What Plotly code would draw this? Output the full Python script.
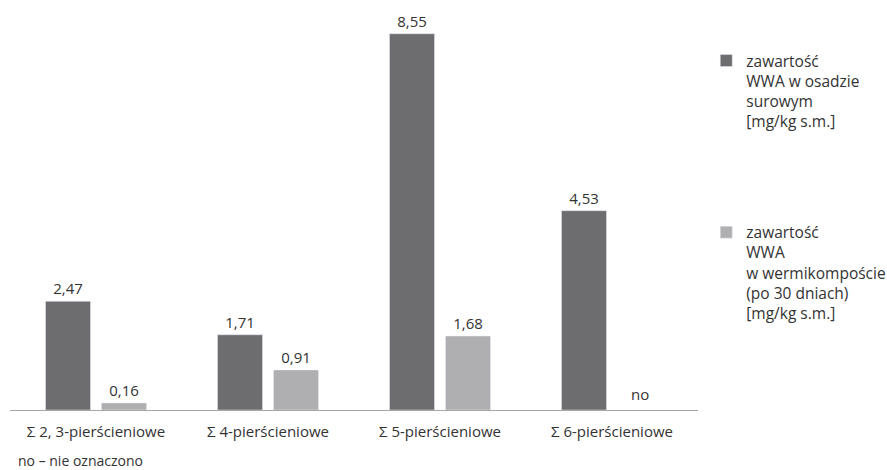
import plotly.graph_objects as go

categories = ["Σ 2, 3-pierścieniowe", "Σ 4-pierścieniowe", "Σ 5-pierścieniowe", "Σ 6-pierścieniowe"]
raw_sludge = [2.47, 1.71, 8.55, 4.53]
vermicompost = [0.16, 0.91, 1.68, None]  # 6-ring: not determined ("no")
series_names = [
    "zawartość<br>WWA w osadzie<br>surowym<br>[mg/kg s.m.]",
    "zawartość<br>WWA<br>w wermikompoście<br>(po 30 dniach)<br>[mg/kg s.m.]",
]
note_text = "no – nie oznaczono"

FONT = "Open Sans"
DARK = "#6d6d6f"
LIGHT = "#afafb1"
TEXT = "#333333"

fig = go.Figure()
fig.add_trace(go.Bar(
    x=categories, y=raw_sludge, name=series_names[0], marker_color=DARK,
    texttemplate="%{y:.2f}", textposition="outside", cliponaxis=False,
    textfont=dict(family=FONT, size=15, color=TEXT), legendgroup="a",
))
fig.add_trace(go.Bar(
    x=categories, y=vermicompost, name=series_names[1], marker_color=LIGHT,
    texttemplate="%{y:.2f}", textposition="outside", cliponaxis=False,
    textfont=dict(family=FONT, size=15, color=TEXT), legendgroup="b",
))

# label for the missing value in the last group
fig.add_annotation(
    x=categories[3], y=0, xref="x", yref="y", text="no", showarrow=False,
    xshift=28, yshift=4, yanchor="bottom", font=dict(family=FONT, size=15, color=TEXT),
)
# footnote explaining the abbreviation
fig.add_annotation(
    x=(80 - 10) / 688, y=-(460 - 410) / 400, xref="paper", yref="paper",
    xanchor="center", yanchor="middle", text=note_text, showarrow=False,
    font=dict(family=FONT, size=14, color=TEXT),
)

fig.update_layout(
    width=887, height=470,
    margin=dict(l=10, r=189, t=10, b=60, autoexpand=False),
    paper_bgcolor="white", plot_bgcolor="white",
    separators=", ",
    barmode="group", bargap=0.349, bargroupgap=0.196,
    font=dict(family=FONT, size=15, color=TEXT),
    legend=dict(
        x=1.012, xanchor="left", y=0.915, yanchor="top", valign="top",
        tracegroupgap=88, traceorder="grouped",
        font=dict(family=FONT, size=15.5, color=TEXT),
        itemwidth=30,
    ),
    xaxis=dict(
        showline=True, linecolor="#a6a6a6", linewidth=1, ticks="",
        ticklabelstandoff=8,
        tickfont=dict(family=FONT, size=15, color=TEXT),
    ),
    yaxis=dict(range=[0, 9.09], visible=False),
)

fig.write_html("out.html")
